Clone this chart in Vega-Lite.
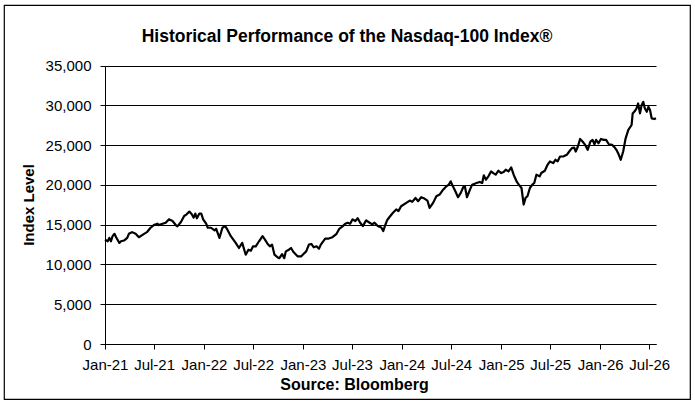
{
  "$schema": "https://vega.github.io/schema/vega-lite/v6.json",
  "description": "Historical performance of the Nasdaq-100 Index, weekly-ish closes read off the reference chart",
  "autosize": {"type": "none"},
  "padding": {"left": 4, "top": 5, "right": 5, "bottom": 7},
  "width": 686,
  "height": 394,
  "title": {
    "text": "Historical Performance of the Nasdaq-100 Index®",
    "font": "Liberation Sans",
    "fontSize": 17.5,
    "fontWeight": "bold",
    "color": "black",
    "anchor": "middle",
    "frame": "group",
    "baseline": "alphabetic",
    "offset": -54
  },
  "config": {
    "font": "Liberation Sans",
    "view": {"stroke": "black", "strokeWidth": 1.2}
  },
  "data": {
    "values": [
      {"date": "2021-01-01", "value": 13130},
      {"date": "2021-01-11", "value": 12920},
      {"date": "2021-01-17", "value": 13350},
      {"date": "2021-01-23", "value": 12920},
      {"date": "2021-01-29", "value": 13560},
      {"date": "2021-02-05", "value": 13860},
      {"date": "2021-02-11", "value": 13430},
      {"date": "2021-02-23", "value": 12710},
      {"date": "2021-03-01", "value": 12920},
      {"date": "2021-03-12", "value": 13010},
      {"date": "2021-03-24", "value": 13350},
      {"date": "2021-03-30", "value": 13860},
      {"date": "2021-04-11", "value": 14070},
      {"date": "2021-04-24", "value": 13860},
      {"date": "2021-05-06", "value": 13430},
      {"date": "2021-05-18", "value": 13690},
      {"date": "2021-06-06", "value": 14110},
      {"date": "2021-06-18", "value": 14620},
      {"date": "2021-06-30", "value": 14960},
      {"date": "2021-07-13", "value": 15130},
      {"date": "2021-07-19", "value": 14960},
      {"date": "2021-08-01", "value": 15130},
      {"date": "2021-08-13", "value": 15250},
      {"date": "2021-08-25", "value": 15680},
      {"date": "2021-09-07", "value": 15470},
      {"date": "2021-09-19", "value": 14960},
      {"date": "2021-09-25", "value": 14790},
      {"date": "2021-10-08", "value": 15340},
      {"date": "2021-10-20", "value": 16100},
      {"date": "2021-10-29", "value": 16310},
      {"date": "2021-11-08", "value": 16650},
      {"date": "2021-11-17", "value": 16310},
      {"date": "2021-11-24", "value": 15890},
      {"date": "2021-11-30", "value": 16400},
      {"date": "2021-12-06", "value": 15810},
      {"date": "2021-12-15", "value": 16400},
      {"date": "2021-12-22", "value": 16400},
      {"date": "2021-12-29", "value": 15680},
      {"date": "2022-01-09", "value": 15130},
      {"date": "2022-01-15", "value": 14620},
      {"date": "2022-01-27", "value": 14620},
      {"date": "2022-02-09", "value": 14280},
      {"date": "2022-02-15", "value": 14490},
      {"date": "2022-02-27", "value": 13350},
      {"date": "2022-03-10", "value": 14620},
      {"date": "2022-03-20", "value": 14830},
      {"date": "2022-03-28", "value": 14410},
      {"date": "2022-04-10", "value": 13560},
      {"date": "2022-04-28", "value": 12710},
      {"date": "2022-05-10", "value": 12070},
      {"date": "2022-05-22", "value": 12710},
      {"date": "2022-06-04", "value": 11230},
      {"date": "2022-06-14", "value": 11860},
      {"date": "2022-06-23", "value": 11740},
      {"date": "2022-07-01", "value": 12290},
      {"date": "2022-07-11", "value": 12290},
      {"date": "2022-07-23", "value": 12920},
      {"date": "2022-08-05", "value": 13560},
      {"date": "2022-08-14", "value": 13130},
      {"date": "2022-08-24", "value": 12580},
      {"date": "2022-09-01", "value": 12290},
      {"date": "2022-09-09", "value": 12500},
      {"date": "2022-09-18", "value": 11230},
      {"date": "2022-09-30", "value": 10890},
      {"date": "2022-10-06", "value": 10800},
      {"date": "2022-10-16", "value": 11310},
      {"date": "2022-10-24", "value": 10800},
      {"date": "2022-10-30", "value": 11650},
      {"date": "2022-11-10", "value": 11860},
      {"date": "2022-11-18", "value": 12070},
      {"date": "2022-11-27", "value": 11570},
      {"date": "2022-12-13", "value": 11010},
      {"date": "2022-12-25", "value": 11010},
      {"date": "2023-01-03", "value": 11310},
      {"date": "2023-01-13", "value": 11650},
      {"date": "2023-01-23", "value": 12500},
      {"date": "2023-02-01", "value": 12580},
      {"date": "2023-02-10", "value": 12160},
      {"date": "2023-02-20", "value": 12290},
      {"date": "2023-03-01", "value": 11990},
      {"date": "2023-03-08", "value": 12500},
      {"date": "2023-03-24", "value": 13260},
      {"date": "2023-04-06", "value": 13260},
      {"date": "2023-04-20", "value": 13430},
      {"date": "2023-05-05", "value": 13860},
      {"date": "2023-05-15", "value": 14490},
      {"date": "2023-05-27", "value": 14790},
      {"date": "2023-06-06", "value": 15130},
      {"date": "2023-06-15", "value": 15250},
      {"date": "2023-06-24", "value": 15130},
      {"date": "2023-07-03", "value": 15680},
      {"date": "2023-07-13", "value": 15470},
      {"date": "2023-07-22", "value": 15810},
      {"date": "2023-07-31", "value": 15250},
      {"date": "2023-08-10", "value": 14830},
      {"date": "2023-08-22", "value": 15550},
      {"date": "2023-09-04", "value": 15250},
      {"date": "2023-09-14", "value": 15040},
      {"date": "2023-09-22", "value": 15250},
      {"date": "2023-10-04", "value": 14830},
      {"date": "2023-10-10", "value": 14750},
      {"date": "2023-10-17", "value": 14650},
      {"date": "2023-10-24", "value": 14200},
      {"date": "2023-11-01", "value": 15000},
      {"date": "2023-11-08", "value": 15600},
      {"date": "2023-11-17", "value": 16000},
      {"date": "2023-11-29", "value": 16500},
      {"date": "2023-12-11", "value": 16920},
      {"date": "2023-12-19", "value": 16710},
      {"date": "2023-12-29", "value": 17330},
      {"date": "2024-01-17", "value": 17750},
      {"date": "2024-01-30", "value": 18040},
      {"date": "2024-02-08", "value": 17870},
      {"date": "2024-02-20", "value": 18370},
      {"date": "2024-03-01", "value": 17960},
      {"date": "2024-03-12", "value": 18460},
      {"date": "2024-03-24", "value": 18290},
      {"date": "2024-04-04", "value": 18040},
      {"date": "2024-04-12", "value": 17120},
      {"date": "2024-04-25", "value": 17750},
      {"date": "2024-05-07", "value": 18580},
      {"date": "2024-05-19", "value": 18790},
      {"date": "2024-06-01", "value": 19410},
      {"date": "2024-06-13", "value": 19830},
      {"date": "2024-06-22", "value": 20040},
      {"date": "2024-06-29", "value": 20460},
      {"date": "2024-07-07", "value": 19830},
      {"date": "2024-07-16", "value": 19210},
      {"date": "2024-07-26", "value": 18460},
      {"date": "2024-08-05", "value": 19000},
      {"date": "2024-08-14", "value": 19710},
      {"date": "2024-08-20", "value": 19830},
      {"date": "2024-08-28", "value": 18460},
      {"date": "2024-09-08", "value": 19420},
      {"date": "2024-09-16", "value": 20040},
      {"date": "2024-10-02", "value": 20250},
      {"date": "2024-10-14", "value": 20380},
      {"date": "2024-10-23", "value": 20250},
      {"date": "2024-10-29", "value": 21210},
      {"date": "2024-11-06", "value": 20670},
      {"date": "2024-11-15", "value": 21090},
      {"date": "2024-11-25", "value": 21710},
      {"date": "2024-12-03", "value": 21500},
      {"date": "2024-12-12", "value": 21290},
      {"date": "2024-12-22", "value": 21790},
      {"date": "2025-01-01", "value": 21500},
      {"date": "2025-01-10", "value": 21620},
      {"date": "2025-01-18", "value": 21920},
      {"date": "2025-01-28", "value": 21710},
      {"date": "2025-02-07", "value": 22210},
      {"date": "2025-02-16", "value": 21290},
      {"date": "2025-02-28", "value": 20380},
      {"date": "2025-03-07", "value": 20040},
      {"date": "2025-03-17", "value": 19620},
      {"date": "2025-03-25", "value": 17540},
      {"date": "2025-04-01", "value": 18380},
      {"date": "2025-04-08", "value": 18580},
      {"date": "2025-04-17", "value": 19620},
      {"date": "2025-04-26", "value": 20040},
      {"date": "2025-05-03", "value": 20250},
      {"date": "2025-05-11", "value": 21290},
      {"date": "2025-05-23", "value": 21080},
      {"date": "2025-05-29", "value": 21500},
      {"date": "2025-06-11", "value": 21790},
      {"date": "2025-06-21", "value": 22540},
      {"date": "2025-06-30", "value": 22960},
      {"date": "2025-07-12", "value": 22750},
      {"date": "2025-07-20", "value": 23170},
      {"date": "2025-07-28", "value": 22960},
      {"date": "2025-08-06", "value": 23580},
      {"date": "2025-08-18", "value": 23580},
      {"date": "2025-08-31", "value": 23790},
      {"date": "2025-09-09", "value": 24210},
      {"date": "2025-09-19", "value": 24630},
      {"date": "2025-09-27", "value": 24710},
      {"date": "2025-10-03", "value": 24210},
      {"date": "2025-10-11", "value": 24840},
      {"date": "2025-10-19", "value": 25790},
      {"date": "2025-10-28", "value": 25460},
      {"date": "2025-11-07", "value": 25040},
      {"date": "2025-11-16", "value": 24420},
      {"date": "2025-11-26", "value": 25460},
      {"date": "2025-12-04", "value": 25670},
      {"date": "2025-12-11", "value": 25120},
      {"date": "2025-12-17", "value": 25670},
      {"date": "2025-12-26", "value": 25250},
      {"date": "2026-01-04", "value": 25790},
      {"date": "2026-01-14", "value": 25670},
      {"date": "2026-01-23", "value": 25670},
      {"date": "2026-02-02", "value": 25120},
      {"date": "2026-02-14", "value": 25040},
      {"date": "2026-02-24", "value": 24710},
      {"date": "2026-03-02", "value": 24420},
      {"date": "2026-03-11", "value": 23790},
      {"date": "2026-03-18", "value": 23170},
      {"date": "2026-03-27", "value": 24210},
      {"date": "2026-04-05", "value": 25870},
      {"date": "2026-04-15", "value": 26920},
      {"date": "2026-04-27", "value": 27540},
      {"date": "2026-05-01", "value": 29000},
      {"date": "2026-05-09", "value": 29290},
      {"date": "2026-05-15", "value": 29620},
      {"date": "2026-05-21", "value": 30250},
      {"date": "2026-05-28", "value": 29000},
      {"date": "2026-06-03", "value": 30040},
      {"date": "2026-06-09", "value": 30460},
      {"date": "2026-06-15", "value": 29620},
      {"date": "2026-06-22", "value": 29210},
      {"date": "2026-06-28", "value": 29830},
      {"date": "2026-07-04", "value": 29420},
      {"date": "2026-07-10", "value": 28380},
      {"date": "2026-07-20", "value": 28290},
      {"date": "2026-07-26", "value": 28380}
    ]
  },
  "mark": {"type": "line", "color": "black", "strokeWidth": 2.2, "strokeJoin": "round"},
  "encoding": {
    "x": {
      "field": "date",
      "type": "temporal",
      "scale": {
        "type": "utc",
        "domain": [
          {"year": 2021, "month": 1, "date": 1, "utc": true},
          {"year": 2026, "month": 7, "date": 26, "utc": true}
        ],
        "range": [101, 652]
      },
      "axis": {
        "title": "Source: Bloomberg",
        "values": [
          {"year": 2021, "month": 1, "date": 1, "utc": true},
          {"year": 2021, "month": 7, "date": 1, "utc": true},
          {"year": 2022, "month": 1, "date": 1, "utc": true},
          {"year": 2022, "month": 7, "date": 1, "utc": true},
          {"year": 2023, "month": 1, "date": 1, "utc": true},
          {"year": 2023, "month": 7, "date": 1, "utc": true},
          {"year": 2024, "month": 1, "date": 1, "utc": true},
          {"year": 2024, "month": 7, "date": 1, "utc": true},
          {"year": 2025, "month": 1, "date": 1, "utc": true},
          {"year": 2025, "month": 7, "date": 1, "utc": true},
          {"year": 2026, "month": 1, "date": 1, "utc": true},
          {"year": 2026, "month": 7, "date": 1, "utc": true}
        ],
        "format": "%b-%y",
        "offset": -55,
        "grid": false,
        "domainColor": "black",
        "tickColor": "black",
        "tickSize": 5,
        "labelFontSize": 15,
        "labelColor": "black",
        "labelBaseline": "alphabetic",
        "labelPadding": 20,
        "labelFlush": false,
        "labelOverlap": false,
        "labelBound": false,
        "titleFontSize": 16,
        "titleFontWeight": "bold",
        "titleColor": "black",
        "titleAlign": "center",
        "titleBaseline": "alphabetic",
        "titleX": 350,
        "titleY": 45.5
      }
    },
    "y": {
      "field": "value",
      "type": "quantitative",
      "scale": {"domain": [0, 35000], "range": [339, 60.7], "nice": false},
      "axis": {
        "title": "Index Level",
        "values": [0, 5000, 10000, 15000, 20000, 25000, 30000, 35000],
        "format": ",d",
        "offset": -101,
        "grid": true,
        "gridColor": "black",
        "gridOpacity": 1,
        "gridWidth": 1,
        "domainColor": "black",
        "tickColor": "black",
        "tickSize": 5,
        "labelFontSize": 15,
        "labelColor": "black",
        "labelPadding": 9,
        "titleFontSize": 15,
        "titleFontWeight": "bold",
        "titleColor": "black",
        "titleAngle": -90,
        "titleAlign": "center",
        "titleBaseline": "alphabetic",
        "titleX": -71.5,
        "titleY": 199.5
      }
    }
  }
}
